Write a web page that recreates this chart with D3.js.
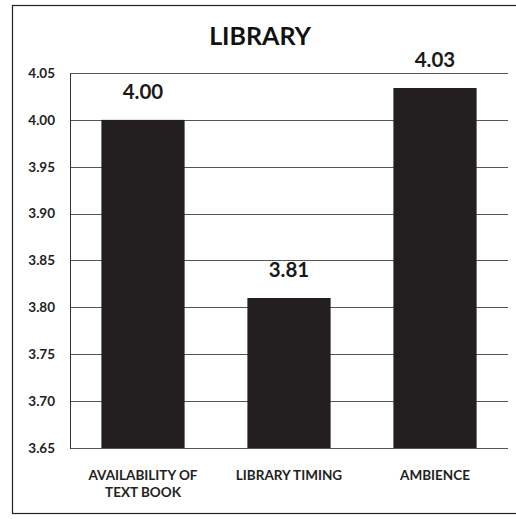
<!DOCTYPE html>
<html>
<head>
<meta charset="utf-8">
<script src="https://cdn.jsdelivr.net/npm/d3@7"></script>
<style>
  body { margin: 0; background: #fff; }
  svg { display: block; font-family: Lato, "Open Sans", sans-serif; }
</style>
</head>
<body>
<svg id="chart" width="516" height="519"></svg>
<script>
// Chart data
const categories = [['AVAILABILITY OF', 'TEXT BOOK'], ['LIBRARY TIMING'], ['AMBIENCE']];
const values = [4.00, 3.81, 4.034];
const yTicks = [3.65, 3.70, 3.75, 3.80, 3.85, 3.90, 3.95, 4.00, 4.05];
const title = 'LIBRARY';

const svg = d3.select('#chart');
const m = { top: 73, right: 8, bottom: 71, left: 70 };
const W = 516, H = 519;

// outer frame
svg.append('rect')
  .attr('x', 12.5).attr('y', 5.5)
  .attr('width', 510).attr('height', 508)
  .attr('fill', 'none').attr('stroke', '#222').attr('stroke-width', 1.2);

const x = d3.scaleBand()
  .domain(d3.range(categories.length))
  .range([m.left, W - m.right])
  .paddingInner(0.43)
  .paddingOuter(0.215);

const y = d3.scaleLinear()
  .domain([3.65, 4.05])
  .range([H - m.bottom, m.top]);

// gridlines
svg.append('g')
  .selectAll('line')
  .data(yTicks)
  .join('line')
  .attr('x1', m.left).attr('x2', W - m.right)
  .attr('y1', d => Math.round(y(d)) + 0.5).attr('y2', d => Math.round(y(d)) + 0.5)
  .attr('stroke', '#555').attr('stroke-width', 1);

// y axis
const yAxis = svg.append('g')
  .attr('transform', `translate(${m.left},0)`)
  .call(d3.axisLeft(y).tickValues(yTicks).tickFormat(d3.format('.2f')).tickSize(0).tickPadding(15));
yAxis.select('.domain').attr('stroke', '#333');
yAxis.selectAll('text')
  .attr('font-size', 13.5).attr('font-weight', 700).attr('fill', '#222')
  .attr('font-family', 'Lato, sans-serif');

// bars
svg.append('g')
  .selectAll('rect')
  .data(values)
  .join('rect')
  .attr('x', (d, i) => x(i))
  .attr('width', x.bandwidth())
  .attr('y', d => y(d))
  .attr('height', d => y(3.65) - y(d))
  .attr('fill', '#231f20');

// value labels
svg.append('g')
  .selectAll('text')
  .data(values)
  .join('text')
  .attr('x', (d, i) => x(i) + x.bandwidth() / 2)
  .attr('y', d => y(d) - 21)
  .attr('text-anchor', 'middle')
  .attr('font-size', 20.5).attr('font-weight', 700).attr('fill', '#1a1a1a')
  .text(d => d3.format('.2f')(d));

// category labels
const cat = svg.append('g')
  .selectAll('text')
  .data(categories)
  .join('text')
  .attr('x', (d, i) => x(i) + x.bandwidth() / 2)
  .attr('y', H - m.bottom + 32)
  .attr('text-anchor', 'middle')
  .attr('font-size', 13.5).attr('font-weight', 700).attr('fill', '#222');
cat.selectAll('tspan')
  .data(d => d)
  .join('tspan')
  .attr('x', function() { return this.parentNode.getAttribute('x'); })
  .attr('dy', (d, i) => i === 0 ? 0 : 17)
  .text(d => d);

// title
svg.append('text')
  .attr('x', 260).attr('y', 45)
  .attr('text-anchor', 'middle')
  .attr('font-size', 25).attr('font-weight', 700).attr('fill', '#111')
  .text(title);
</script>
</body>
</html>
